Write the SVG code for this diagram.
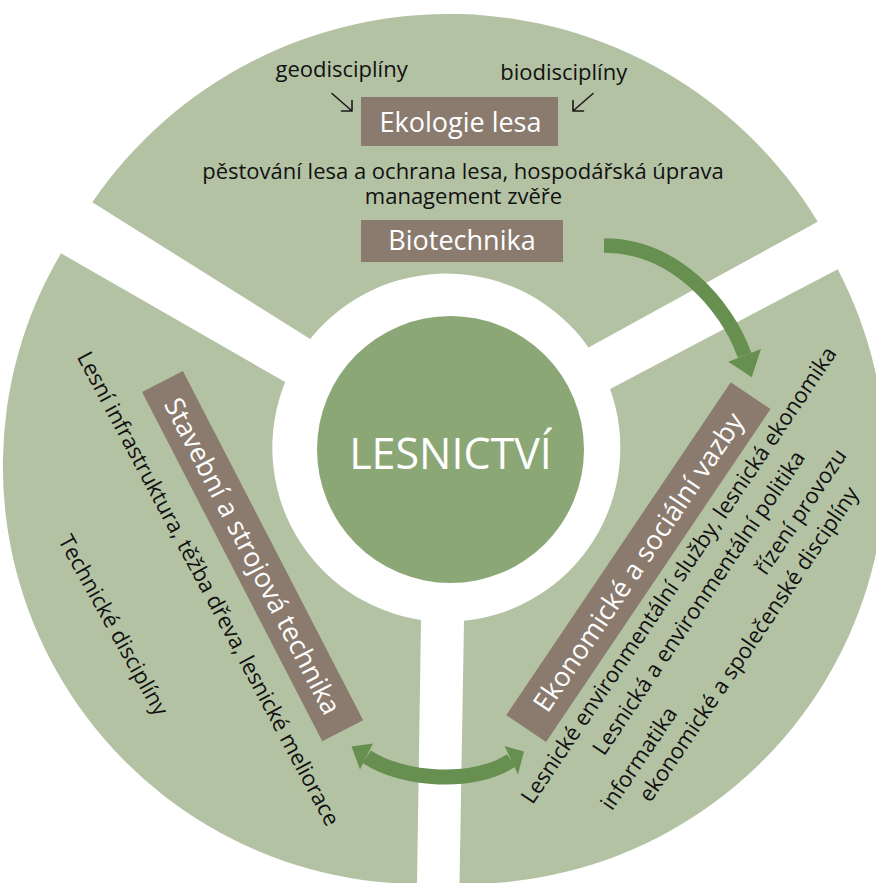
<svg xmlns="http://www.w3.org/2000/svg" width="876" height="883" viewBox="0 0 876 883">
<style>
.sector{fill:#B4C2A4;}
.box{fill:#8B7B6F;}
.boxt{font-family:"Open Sans","Noto Sans","DejaVu Sans",sans-serif;font-size:27px;fill:#FFFFFF;text-anchor:middle;}
.t{font-family:"Open Sans","Noto Sans","DejaVu Sans",sans-serif;font-size:22px;fill:#111111;text-anchor:middle;}
.shaft{fill:none;stroke:#668F50;stroke-linecap:butt;}
.head{fill:#668F50;}
.thin{fill:none;stroke:#1A1A1A;stroke-width:1.6;stroke-linecap:round;stroke-linejoin:miter;}
</style>
<rect width="876" height="883" fill="#FFFFFF"/>
<g id="sector-top">
<path class="sector" d="M310.2,339.1 L92.3,202.3 A431.5,431.5 0 0 1 817.7,221.7 L588.5,347.4 A174,174 0 0 0 310.2,339.1 Z"/>
<text class="t" x="341.6" y="77.3">geodisciplíny</text>
<text class="t" x="563.7" y="79.5">biodisciplíny</text>
<text class="t" x="463" y="179">pěstování lesa a ochrana lesa, hospodářská úprava</text>
<text class="t" x="463.5" y="204">management zvěře</text>
</g>
<g id="sector-left">
<path class="sector" d="M285.2,382.1 L61,253.3 A418,418 0 0 0 417,884 L421,619.9 A174,174 0 0 1 285.2,382.1 Z"/>
<text class="t" transform="translate(201.7 592.2) rotate(62)">Lesní infrastruktura, těžba dřeva, lesnické meliorace</text>
<text class="t" transform="translate(106.8 628.8) rotate(61)">Technické disciplíny</text>
</g>
<g id="sector-right">
<path class="sector" d="M610.1,388.9 L837.7,269.3 A420,420 0 0 1 459.5,884 L464,620.8 A174,174 0 0 0 610.1,388.9 Z"/>
<text class="t" transform="translate(685 579.4) rotate(-56)">Lesnické environmentální služby, lesnická ekonomika</text>
<text class="t" transform="translate(705 607) rotate(-56)">Lesnická a environmentální politika</text>
<text class="t" transform="translate(806.8 515.8) rotate(-56)">řízení provozu</text>
<text class="t" transform="translate(645 762.5) rotate(-56)">informatika</text>
<text class="t" transform="translate(754.9 648.5) rotate(-56)">ekonomické a společenské disciplíny</text>
</g>
<g id="lesnictvi">
<circle cx="450.5" cy="449.5" r="133.5" fill="#8BA776"/>
<text x="450.5" y="469.3" font-family="'Open Sans','Noto Sans','DejaVu Sans',sans-serif" font-size="43" fill="#FFFFFF" text-anchor="middle">LESNICTVÍ</text>
</g>
<g id="ekologie-lesa">
<rect class="box" x="361" y="97" width="197" height="49"/>
<text class="boxt" x="460.5" y="131.5">Ekologie lesa</text>
</g>
<g id="biotechnika">
<rect class="box" x="361" y="220" width="202" height="42"/>
<text class="boxt" x="462" y="250">Biotechnika</text>
</g>
<g id="stavebni-technika" transform="translate(252.6 556.1) rotate(62.7)">
<rect class="box" x="-196.5" y="-23" width="393" height="46"/>
<text class="boxt" x="0" y="9.5">Stavební a strojová technika</text>
</g>
<g id="ekonomicke-vazby" transform="translate(638.4 562.1) rotate(-56)">
<rect class="box" x="-200.75" y="-24" width="401.5" height="48"/>
<text class="boxt" x="0" y="9.5">Ekonomické a sociální vazby</text>
</g>
<g id="connectors">
<path class="thin" d="M332,93.5 L352,111 M352,100.5 L352,111 L341.5,111"/>
<path class="thin" d="M593,93.5 L573,111 M573,100.5 L573,111 L583.5,111"/>
<path class="shaft" stroke-width="14.4" d="M604,245.5 C674,245.5 725.9,303.6 744.6,355.3"/>
<polygon class="head" points="728.3,361.7 761,349 751.7,377.3"/>
<path class="shaft" stroke-width="15" d="M366.7,756.7 C403.3,781.1 474.8,785.1 511.2,760.4"/>
<polygon class="head" points="351.5,746.5 373,743.5 360,769.5"/>
<polygon class="head" points="524,751.5 504.5,746 518,774.5"/>
</g>
</svg>
